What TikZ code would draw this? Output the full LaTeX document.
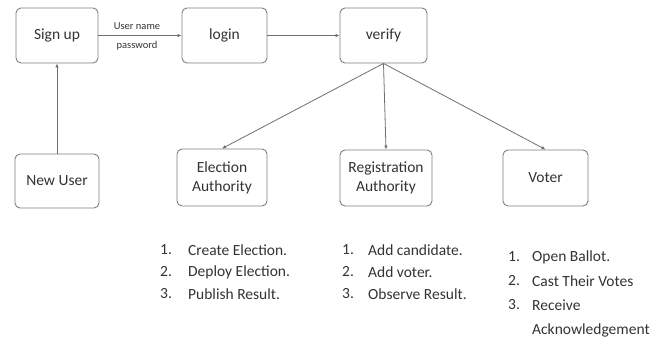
\documentclass[tikz,border=0pt]{standalone}
\usepackage{fontspec}
\setmainfont{Carlito}
\usetikzlibrary{arrows.meta}
\definecolor{boxgray}{HTML}{7F7F7F}
\definecolor{linkgray}{HTML}{6E6E6E}
\definecolor{textgray}{HTML}{333333}
\begin{document}
\begin{tikzpicture}[x=1pt,y=-1pt,
  box/.style={draw=boxgray, line width=0.9pt, rounded corners=5pt, fill=white,
    align=center, font=\fontsize{15.5}{19}\selectfont, text=textgray, inner sep=0pt},
  link/.style={draw=linkgray, line width=0.8pt, -{Latex[length=4pt,width=3.5pt]}},
  small/.style={font=\fontsize{10.5}{12}\selectfont, text=textgray, inner sep=0pt},
  item/.style={anchor=west, font=\fontsize{15.5}{18}\selectfont, text=textgray, inner sep=0pt}]
\useasboundingbox (0,0) rectangle (651,344);

% boxes
\node[box, minimum width=82pt, minimum height=55pt] (signup) at (57,35.5) {Sign up};
\node[box, minimum width=85pt, minimum height=55pt] (login) at (224.5,35.5) {login};
\node[box, minimum width=87pt, minimum height=55pt] (verify) at (383.5,35.5) {verify};
\node[box, minimum width=84pt, minimum height=54pt] (newuser) at (57,181) {New User};
\node[box, minimum width=90pt, minimum height=57pt] (election) at (222,177.5) {Election\\Authority};
\node[box, minimum width=92pt, minimum height=56pt] (registration) at (386,178) {Registration\\Authority};
\node[box, minimum width=85pt, minimum height=56pt] (voter) at (545.5,178) {Voter};

% connectors
\draw[link] (signup) -- (login);
\draw[link] (login) -- (verify);
\draw[link] (newuser) -- (signup);
\draw[link] (verify.south) -- (election.north);
\draw[link] (verify.south) -- (registration.north);
\draw[link] (verify.south) -- (voter.north);

\node[small] (lblname) at (137,26) {User name};
\node[small] (lblpass) at (137,46) {password};

% task lists
\foreach \n/\t [count=\i from 0] in {1./Create Election., 2./Deploy Election., 3./Publish Result.} {
  \node[item] (ea num \i) at (160,250+22*\i) {\n};
  \node[item] (ea txt \i) at (188,250+22*\i) {\t};
}
\foreach \n/\t [count=\i from 0] in {1./Add candidate., 2./Add voter., 3./Observe Result.} {
  \node[item] (ra num \i) at (342,250+22*\i) {\n};
  \node[item] (ra txt \i) at (368,250+22*\i) {\t};
}
\foreach \n/\t [count=\i from 0] in {1./Open Ballot., 2./Cast Their Votes, 3./Receive} {
  \node[item] (vo num \i) at (508,257+24*\i) {\n};
  \node[item] (vo txt \i) at (532,257+24*\i) {\t};
}
\node[item] (vo txt 3) at (532,330) {Acknowledgement};
\end{tikzpicture}
\end{document}
